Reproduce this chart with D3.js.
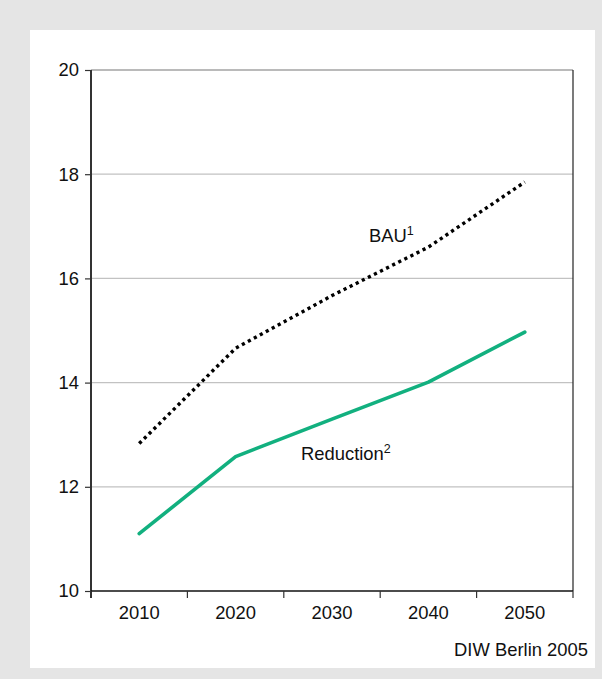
<!DOCTYPE html>
<html>
<head>
<meta charset="utf-8">
<script src="https://cdn.jsdelivr.net/npm/d3@7"></script>
<style>
  html, body { margin: 0; padding: 0; background: #e5e5e5; }
  svg { display: block; font-family: "Liberation Sans", Arial, sans-serif; }
</style>
</head>
<body>
<script>
// chart values
var years = ["2010", "2020", "2030", "2040", "2050"];
var bauValues = [12.83, 14.66, 15.67, 16.6, 17.85];
var reductionValues = [11.1, 12.58, 13.3, 14.01, 14.97];
var yTicks = [10, 12, 14, 16, 18, 20];

var W = 602, H = 679;
var margin = {left: 91, right: 29, top: 70, bottom: 88};
var FONT = 18.4;

var svg = d3.select("body").append("svg")
    .attr("width", W)
    .attr("height", H);

// grey frame with white panel
svg.append("rect").attr("width", W).attr("height", H).attr("fill", "#e5e5e5");
svg.append("rect")
    .attr("x", 30).attr("y", 30)
    .attr("width", 565).attr("height", 638)
    .attr("fill", "#fff");

var x = d3.scaleBand()
    .domain(years)
    .range([margin.left, W - margin.right]);

var y = d3.scaleLinear()
    .domain([10, 20])
    .range([H - margin.bottom, margin.top]);

// horizontal grid
svg.append("g").selectAll("line")
    .data(yTicks.filter(function(d) { return d > 10; }))
    .enter().append("line")
    .attr("x1", margin.left).attr("x2", W - margin.right)
    .attr("y1", function(d) { return y(d); })
    .attr("y2", function(d) { return y(d); })
    .attr("stroke", function(d) { return d === 20 ? "#777" : "#c2c2c2"; })
    .attr("stroke-width", 1.2);

// right border of plot
svg.append("line")
    .attr("x1", W - margin.right).attr("x2", W - margin.right)
    .attr("y1", y(20)).attr("y2", y(10))
    .attr("stroke", "#222").attr("stroke-width", 1.2);

// y axis
var yAxis = svg.append("g")
    .attr("transform", "translate(" + margin.left + ",0)")
    .call(d3.axisLeft(y).tickValues(yTicks).tickSize(6).tickPadding(6));
yAxis.select(".domain").attr("stroke", "#333").attr("stroke-width", 2).attr("d", "M0," + (y(20)) + "V" + (y(10) + 7));
yAxis.selectAll(".tick line").attr("stroke", "#333").attr("stroke-width", 1.2);
yAxis.selectAll("text").attr("font-size", FONT).attr("fill", "#111")
    .attr("font-family", "Liberation Sans, Arial, sans-serif");

// x axis: ticks on band boundaries
var xAxisG = svg.append("g")
    .attr("transform", "translate(0," + y(10) + ")");
xAxisG.append("line")
    .attr("x1", margin.left).attr("x2", W - margin.right)
    .attr("stroke", "#111").attr("stroke-width", 1.5);
var bounds = years.map(function(d) { return x(d); }).concat([x(years[years.length - 1]) + x.bandwidth()]);
xAxisG.selectAll(".btick").data(bounds).enter().append("line")
    .attr("x1", function(d) { return d; }).attr("x2", function(d) { return d; })
    .attr("y1", 0).attr("y2", 7)
    .attr("stroke", "#333").attr("stroke-width", 1.2);
xAxisG.selectAll(".lbl").data(years).enter().append("text")
    .attr("x", function(d) { return x(d) + x.bandwidth() / 2; })
    .attr("y", 28)
    .attr("text-anchor", "middle")
    .attr("font-size", FONT)
    .attr("fill", "#111")
    .text(function(d) { return d; });

// lines
var line = d3.line()
    .x(function(d, i) { return x(years[i]) + x.bandwidth() / 2; })
    .y(function(d) { return y(d); });

svg.append("path")
    .datum(reductionValues)
    .attr("d", line)
    .attr("fill", "none")
    .attr("stroke", "#12b07f")
    .attr("stroke-width", 3.6)
    .attr("stroke-linecap", "round")
    .attr("stroke-linejoin", "round");

svg.append("path")
    .datum(bauValues)
    .attr("d", line)
    .attr("fill", "none")
    .attr("stroke", "#000")
    .attr("stroke-width", 3.4)
    .attr("stroke-dasharray", "3.2,3.6");

// series labels
function seriesLabel(tx, ty, name, sup) {
    var t = svg.append("text")
        .attr("x", tx).attr("y", ty)
        .attr("font-size", FONT)
        .attr("fill", "#111");
    t.append("tspan").text(name);
    t.append("tspan").attr("font-size", 12.5).attr("dy", -7).text(sup);
}
seriesLabel(369, 242, "BAU", "1");
seriesLabel(301, 460, "Reduction", "2");

// source
svg.append("text")
    .attr("x", 588).attr("y", 656)
    .attr("text-anchor", "end")
    .attr("font-size", FONT)
    .attr("fill", "#111")
    .text("DIW Berlin 2005");
</script>
</body>
</html>
